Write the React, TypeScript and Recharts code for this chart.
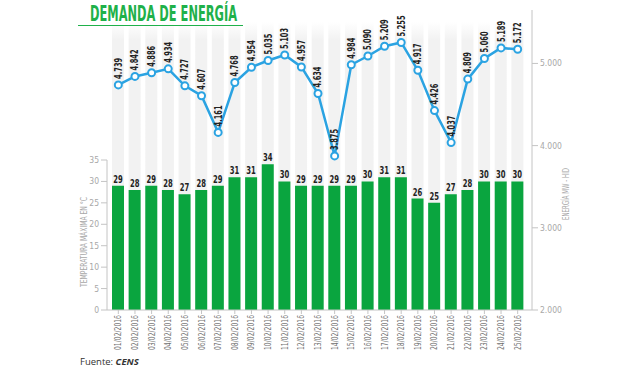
import React from 'react';
import {
  ComposedChart,
  Bar,
  Line,
  XAxis,
  YAxis,
  LabelList,
} from 'recharts';

const dates = [
  '01/02/2016', '02/02/2016', '03/02/2016', '04/02/2016', '05/02/2016',
  '06/02/2016', '07/02/2016', '08/02/2016', '09/02/2016', '10/02/2016',
  '11/02/2016', '12/02/2016', '13/02/2016', '14/02/2016', '15/02/2016',
  '16/02/2016', '17/02/2016', '18/02/2016', '19/02/2016', '20/02/2016',
  '21/02/2016', '22/02/2016', '23/02/2016', '24/02/2016', '25/02/2016',
];
const tempMax = [29, 28, 29, 28, 27, 28, 29, 31, 31, 34, 30, 29, 29, 29, 29, 30, 31, 31, 26, 25, 27, 28, 30, 30, 30];
const demand = [
  4739, 4842, 4886, 4934, 4727, 4607, 4161, 4768, 4954, 5035, 5103, 4957, 4634,
  3875, 4984, 5090, 5209, 5255, 4917, 4426, 4037, 4809, 5060, 5189, 5172,
];
const tempTicks = [0, 5, 10, 15, 20, 25, 30, 35];
const demandTicks = [2000, 3000, 4000, 5000];

const data = dates.map((d, i) => ({ date: d, temp: tempMax[i], demand: demand[i] }));

const NARROW = '"Liberation Sans Narrow", "DejaVu Sans Condensed", Roboto, sans-serif';
const GREEN = '#0aa53f';
const BLUE = '#2ba3e2';
const GRAY = '#a8a8a8';

// 4739 -> "4.739"
const fmt = (v: number) => {
  const s = String(v);
  return s.length > 3 ? s.slice(0, -3) + '.' + s.slice(-3) : s;
};

const DateTick = (props: any) => {
  const { x, y, payload } = props;
  return (
    <text
      x={x}
      y={y}
      transform={`rotate(-90 ${x} ${y})`}
      textAnchor="end"
      dominantBaseline="central"
      fontSize={9}
      fontFamily={NARROW}
      fill="#707070"
      textLength={35}
      lengthAdjust="spacingAndGlyphs"
    >
      {payload.value}
    </text>
  );
};

const TempLabel = (props: any) => {
  const { x, y, width, value } = props;
  const cx = x + width / 2;
  return (
    <text
      x={cx}
      y={y - 3}
      textAnchor="middle"
      fontSize={11}
      fontWeight="bold"
      fontFamily={NARROW}
      fill="#222"
      textLength={9.5}
      lengthAdjust="spacingAndGlyphs"
    >
      {value}
    </text>
  );
};

const DemandLabel = (props: any) => {
  const { x, y, value } = props;
  const ly = y - 6;
  return (
    <text
      x={x}
      y={ly}
      transform={`rotate(-90 ${x} ${ly})`}
      textAnchor="start"
      dominantBaseline="central"
      fontSize={11}
      fontWeight="bold"
      fontFamily={NARROW}
      fill="#222"
      textLength={21}
      lengthAdjust="spacingAndGlyphs"
    >
      {fmt(value)}
    </text>
  );
};

export default function App() {
  return (
    <div style={{ position: 'absolute', left: 0, top: 0, width: 640, height: 370, background: '#fff' }}>
      <ComposedChart
        width={640}
        height={370}
        data={data}
        margin={{ top: 10, right: 58, left: 61, bottom: 15 }}
      >
        <defs>
          <linearGradient id="stripe" x1="0" y1="0" x2="0" y2="1">
            <stop offset="4%" stopColor="#f2f2f2" stopOpacity={0} />
            <stop offset="10%" stopColor="#f2f2f2" stopOpacity={1} />
            <stop offset="100%" stopColor="#f2f2f2" stopOpacity={1} />
          </linearGradient>
        </defs>
        <XAxis
          dataKey="date"
          interval={0}
          height={45}
          padding={{ left: 3, right: 6 }}
          tick={<DateTick />}
          tickSize={4}
          tickMargin={1}
          stroke="#c4c4c4"
        />
        <YAxis
          yAxisId="left"
          domain={[0, 70]}
          ticks={tempTicks}
          width={46}
          stroke="#c4c4c4"
          axisLine={{ stroke: '#c4c4c4', strokeDasharray: '0 150 150' }}
          tick={{ fontSize: 8.5, fontFamily: NARROW, fill: GRAY }}
        />
        <YAxis
          yAxisId="right"
          orientation="right"
          domain={[2000, 5650]}
          ticks={demandTicks}
          width={50}
          stroke="#c4c4c4"
          tickFormatter={fmt}
          tick={{ fontSize: 8.5, fontFamily: NARROW, fill: GRAY }}
        />
        <Bar
          yAxisId="left"
          dataKey="temp"
          fill={GREEN}
          barSize={12}
          background={{ fill: 'url(#stripe)' }}
          isAnimationActive={false}
        >
          <LabelList dataKey="temp" content={<TempLabel />} />
        </Bar>
        <Line
          yAxisId="right"
          dataKey="demand"
          type="linear"
          stroke={BLUE}
          strokeWidth={2.5}
          dot={{ r: 3.5, fill: '#fff', stroke: BLUE, strokeWidth: 2 }}
          isAnimationActive={false}
        >
          <LabelList dataKey="demand" content={<DemandLabel />} />
        </Line>
      </ComposedChart>
      <svg
        width={640}
        height={370}
        style={{ position: 'absolute', left: 0, top: 0, pointerEvents: 'none' }}
      >
        <text
          x={90}
          y={21}
          fontSize={22}
          fontWeight="bold"
          fontFamily={NARROW}
          fill="#1fb14a"
          textLength={147}
          lengthAdjust="spacingAndGlyphs"
        >
          DEMANDA DE ENERGÍA
        </text>
        <line x1={78} x2={243} y1={25.5} y2={25.5} stroke="#1fb14a" strokeWidth={1} />
        <text
          x={84}
          y={242}
          transform="rotate(-90 84 242)"
          textAnchor="middle"
          dominantBaseline="central"
          fontSize={8}
          fontFamily={NARROW}
          fill={GRAY}
          textLength={90}
          lengthAdjust="spacingAndGlyphs"
        >
          TEMPERATURA MÁXIMA EN °C
        </text>
        <text
          x={566}
          y={194}
          transform="rotate(-90 566 194)"
          textAnchor="middle"
          dominantBaseline="central"
          fontSize={8}
          fontFamily={NARROW}
          fill={GRAY}
          textLength={52}
          lengthAdjust="spacingAndGlyphs"
        >
          ENERGÍA MW - HID
        </text>
        <text x={80} y={365} fontSize={9.5} fontFamily='"Open Sans", sans-serif' fill="#333">
          <tspan>Fuente: </tspan>
          <tspan fontWeight="bold" fontStyle="italic">CENS</tspan>
        </text>
      </svg>
    </div>
  );
}
